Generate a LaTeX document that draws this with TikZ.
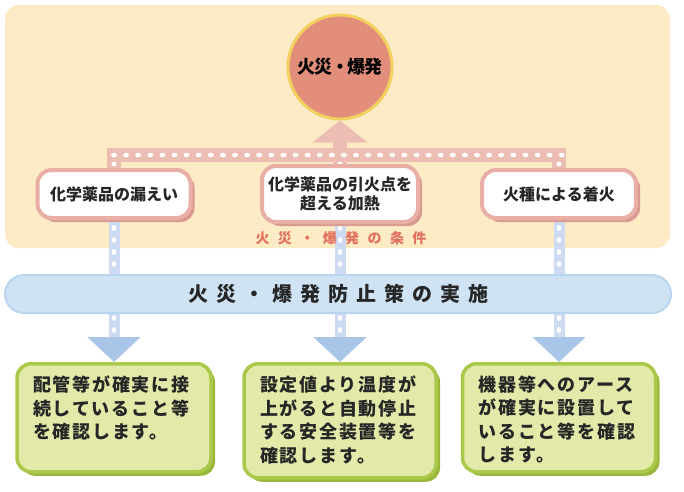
\documentclass[tikz,border=0pt]{standalone}
\usepackage{fontspec}
\newfontfamily\jp{Noto Sans CJK JP}
\usetikzlibrary{arrows.meta,shadows}
\definecolor{cream}{HTML}{FCEBC5}
\definecolor{salmon}{HTML}{E28E7A}
\definecolor{sunring}{HTML}{F3CF60}
\definecolor{pinkbar}{HTML}{ECBDB3}
\definecolor{pinkborder}{HTML}{E9AEA6}
\definecolor{pinkshadow}{HTML}{D99A92}
\definecolor{labelred}{HTML}{E2705E}
\definecolor{barblue}{HTML}{CFE3F5}
\definecolor{barblueline}{HTML}{B9D5EF}
\definecolor{connblue}{HTML}{CCDBF1}
\definecolor{arrowblue}{HTML}{A9C6E8}
\definecolor{greenfill}{HTML}{E3E9A9}
\definecolor{greenborder}{HTML}{AAC84A}
\definecolor{greenshadow}{HTML}{9AB73C}
\definecolor{ink}{HTML}{262626}
\pgfdeclarelayer{bg}
\pgfdeclarelayer{mid}
\pgfsetlayers{bg,mid,main}
\tikzset{
  condbox/.style={draw=pinkborder, line width=4pt, fill=white, rounded corners=14pt,
    minimum height=48pt, align=center, text=ink,
    font=\jp\bfseries\fontsize{16}{20}\selectfont,
    drop shadow={shadow xshift=4pt, shadow yshift=-4pt, fill=pinkshadow, opacity=1}},
  greenbox/.style={draw=greenborder, line width=3.5pt, fill=greenfill, rounded corners=14pt,
    inner xsep=16pt, inner ysep=12pt, anchor=north, text=ink,
    font=\jp\bfseries\fontsize{18}{23.5}\selectfont\addfontfeatures{LetterSpace=10},
    drop shadow={shadow xshift=4pt, shadow yshift=-4pt, fill=greenshadow, opacity=1}},
  pinkline/.style={draw=pinkbar, line width=14pt},
  pinkarrow/.style={draw=pinkbar, line width=14pt,
    -{Triangle[width=54pt,length=22pt,color=pinkbar,fill=pinkbar]}},
  blueconn/.style={draw=connblue, line width=11pt,
    -{Triangle[width=52pt,length=25pt,color=arrowblue,fill=arrowblue]}},
  whitedot/.style={fill=white},
  planbar/.style={draw=barblueline, line width=2pt, fill=barblue, rounded corners=19pt,
    minimum width=666pt, minimum height=38pt, text=ink,
    font=\jp\bfseries\fontsize{20}{22}\selectfont\addfontfeatures{LetterSpace=40}},
}
\begin{document}
\begin{tikzpicture}[x=1pt,y=-1pt]
\useasboundingbox (0,0) rectangle (684,491);
\begin{pgfonlayer}{bg}
\fill[cream, rounded corners=14pt] (5,5) rectangle (670,248);
\end{pgfonlayer}

% nodes
\node[circle, fill=salmon, draw=sunring, line width=3pt, minimum size=104pt,
  font=\jp\bfseries\fontsize{18}{20}\selectfont\addfontfeatures{LetterSpace=-6}, text=black] (fire) at (340,67) {火災・爆発};
\node[condbox, minimum width=153pt] (c1) at (114,194) {化学薬品の漏えい};
\node[condbox, minimum width=156pt, minimum height=56pt] (c2) at (340,194) {化学薬品の引火点を\\[-1pt]超える加熱};
\node[condbox, minimum width=154pt] (c3) at (559,194) {火種による着火};
\coordinate (bar) at (340,155);

\node[font=\jp\bfseries\fontsize{14}{16}\selectfont\addfontfeatures{LetterSpace=60}, text=labelred]
  (cond) at (341,238) {火災・爆発の条件};

\node[planbar] (plan) at (338,294) {火災・爆発防止策の実施};

\node[greenbox] (g1) at (114,362) {\parbox[c][84pt][t]{162pt}{配管等が確実に接\\続していること等\\を確認します。}};
\node[greenbox] (g2) at (340,362) {\parbox[c][90pt][t]{160pt}{設定値より温度が\\上がると自動停止\\する安全装置等を\\確認します。}};
\node[greenbox] (g3) at (559,362) {\parbox[c][84pt][t]{161pt}{機器等へのアース\\が確実に設置して\\いること等を確認\\します。}};

% connectors behind the nodes
\begin{pgfonlayer}{mid}
\draw[blueconn] (c1.south) -- (g1.north);
\draw[blueconn] (c2.south) -- (g2.north);
\draw[blueconn] (c3.south) -- (g3.north);
\foreach \n in {c1,c2,c3}{
  \foreach \y in {228,240,252,264,318,330}{
    \fill[whitedot] (\n.south |- 0,\y) ellipse [x radius=2.4pt, y radius=2.8pt];
  }
}
\draw[pinkline, line join=miter] (c1.north) -- (c1.north |- bar) -- (c3.north |- bar) -- (c3.north);
\draw[pinkline] (c2.north) -- (bar);
\draw[pinkarrow] (bar) -- (fire.south);
\foreach \i in {0,...,37}{
  \fill[whitedot] (114+\i*12.1,155) ellipse [x radius=3pt, y radius=2.3pt];
}
\foreach \n in {c1,c2,c3}{
  \fill[whitedot] (\n.north |- 0,164) ellipse [x radius=2.6pt, y radius=2.3pt];
}
\end{pgfonlayer}
\end{tikzpicture}
\end{document}
